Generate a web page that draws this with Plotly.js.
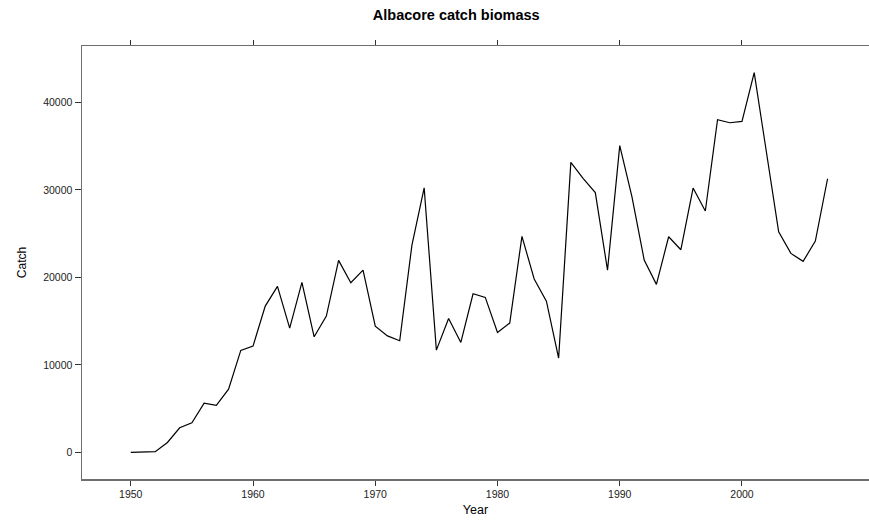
<!DOCTYPE html>
<html>
<head>
<meta charset="utf-8">
<script src="https://cdn.plot.ly/plotly-3.0.1.min.js"></script>
<style>
  html, body { margin: 0; padding: 0; background: #fff; }
  #chart { width: 869px; height: 522px; }
</style>
</head>
<body>
<div id="chart"></div>
<script>
// Annual albacore catch (biomass), 1950-2007
const years = [
  1950, 1951, 1952, 1953, 1954, 1955, 1956, 1957, 1958, 1959,
  1960, 1961, 1962, 1963, 1964, 1965, 1966, 1967, 1968, 1969,
  1970, 1971, 1972, 1973, 1974, 1975, 1976, 1977, 1978, 1979,
  1980, 1981, 1982, 1983, 1984, 1985, 1986, 1987, 1988, 1989,
  1990, 1991, 1992, 1993, 1994, 1995, 1996, 1997, 1998, 1999,
  2000, 2001, 2002, 2003, 2004, 2005, 2006, 2007
];
const catchValues = [
  0, 20, 90, 1140, 2810, 3390, 5630, 5370, 7230, 11660,
  12150, 16720, 18970, 14200, 19430, 13210, 15580, 21940, 19390, 20830,
  14430, 13310, 12760, 23690, 30240, 11690, 15310, 12570, 18130, 17710,
  13710, 14780, 24690, 19810, 17290, 10780, 33140, 31310, 29690, 20830,
  35060, 29210, 21980, 19200, 24640, 23160, 30210, 27580, 38010, 37670,
  37830, 43390, 34550, 25210, 22740, 21830, 24150, 31270
];
const xTicks = [1950, 1960, 1970, 1980, 1990, 2000];
const yTicks = [0, 10000, 20000, 30000, 40000];

const font = "'Liberation Sans', Arial, Helvetica, sans-serif";

const trace = {
  x: years,
  y: catchValues,
  type: 'scatter',
  mode: 'lines',
  line: { color: '#000000', width: 1.2 },
  hoverinfo: 'x+y'
};

const axisCommon = {
  showgrid: false,
  zeroline: false,
  showline: true,
  linecolor: '#6f6f6f',
  linewidth: 1.5,
  ticks: 'outside',
  tickcolor: '#333333',
  tickwidth: 1,
  tickfont: { family: font, size: 10.5, color: '#222222' }
};

const layout = {
  width: 869,
  height: 522,
  margin: { l: 82, r: 0, t: 46, b: 43 },
  paper_bgcolor: '#ffffff',
  plot_bgcolor: '#ffffff',
  showlegend: false,
  title: {
    text: '<b>Albacore catch biomass</b>',
    font: { family: font, size: 14.5, color: '#000000' },
    xref: 'container', x: 0.525, xanchor: 'center',
    yref: 'container', y: 0.972, yanchor: 'middle'
  },
  xaxis: Object.assign({}, axisCommon, {
    range: [1946.01, 2010.39],
    tickvals: xTicks,
    ticktext: xTicks.map(String),
    ticklen: 5,
    mirror: 'ticks',
    title: { text: 'Year', font: { family: font, size: 12.5, color: '#000000' }, standoff: 6 }
  }),
  yaxis: Object.assign({}, axisCommon, {
    range: [-3038, 46438],
    tickvals: yTicks,
    ticktext: yTicks.map(String),
    ticklen: 6,
    title: { text: 'Catch', font: { family: font, size: 12, color: '#000000' }, standoff: 14 }
  })
};

Plotly.newPlot('chart', [trace], layout, { staticPlot: true, displayModeBar: false });
</script>
</body>
</html>
